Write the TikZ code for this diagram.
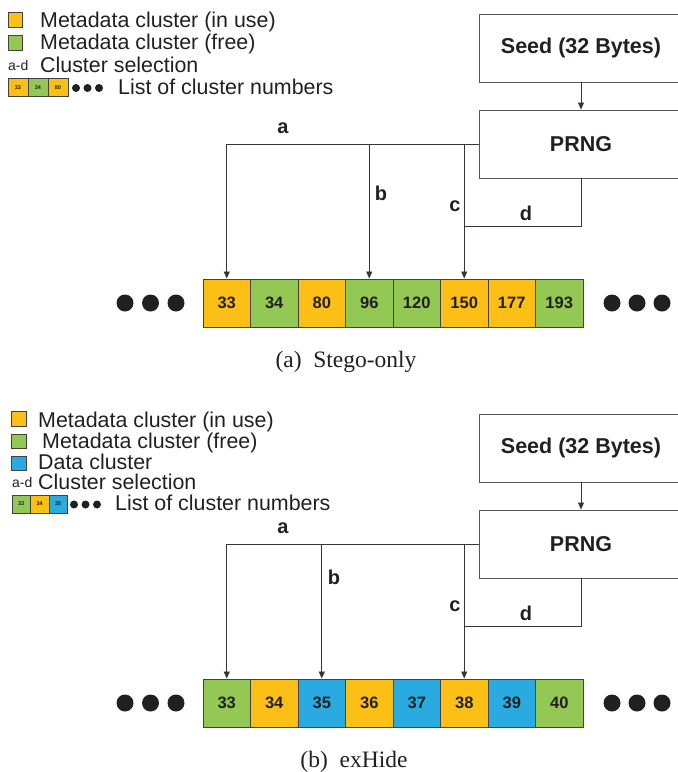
\documentclass[tikz,border=0pt]{standalone}
\usepackage{fontspec}
\setmainfont{Liberation Serif}
\setsansfont{Liberation Sans}
\usetikzlibrary{arrows.meta}
\definecolor{inuse}{HTML}{FBBF15}
\definecolor{free}{HTML}{92C853}
\definecolor{data}{HTML}{29ABE2}
\definecolor{ink}{HTML}{231F20}

\begin{document}
\begin{tikzpicture}[x=1pt,y=-1pt]
    % Define styles for boxes, cells and connectors
    \tikzstyle{block}=[draw=ink!75,line width=0.9pt,minimum width=204pt,minimum height=68pt,inner sep=0pt,text=ink,font=\sffamily\bfseries\fontsize{21.5}{24}\selectfont]
    \tikzstyle{cell}=[draw=ink!85,line width=1pt,minimum width=47.5pt,minimum height=48pt,inner sep=0pt,text=ink,font=\sffamily\bfseries\fontsize{16.5}{18}\selectfont]
    \tikzstyle{minicell}=[cell,line width=0.6pt,minimum height=18pt,font=\sffamily\bfseries\fontsize{5.5}{6}\selectfont]
    \tikzstyle{swatch}=[draw=ink!85,line width=0.8pt,minimum size=14.5pt,inner sep=0pt]
    \tikzstyle{legend}=[anchor=base west,inner sep=0pt,text=ink,font=\sffamily\fontsize{21.4}{24}\selectfont]
    \tikzstyle{sel}=[inner sep=0pt,text=ink,font=\sffamily\bfseries\fontsize{20}{22}\selectfont]
    \tikzstyle{link}=[draw=ink!90,line width=0.9pt]
    \tikzstyle{pick}=[link,-{Triangle[length=7pt,width=6pt]}]
    \tikzstyle{dot}=[circle,fill=ink,minimum size=17pt,inner sep=0pt]
    \tikzstyle{minidot}=[circle,fill=ink,minimum size=8pt,inner sep=0pt]
    \tikzstyle{caption}=[inner sep=0pt,text=ink,font=\rmfamily\fontsize{23.5}{25}\selectfont]

    \useasboundingbox (0,0) rectangle (678,772);

    % Legend (a)
    \node[swatch,fill=inuse] (sqA1) at (15.5,20) {};
    \node[swatch,fill=free] (sqA2) at (15.5,43) {};
    \node[legend] (txA1) at (40,27) {Metadata cluster (in use)};
    \node[legend] (txA2) at (40,49.5) {Metadata cluster (free)};
    \node[legend,font=\sffamily\fontsize{14}{16}\selectfont] (adA) at (8,70) {a-d};
    \node[legend] (txA3) at (40,72) {Cluster selection};
    \foreach \i/\num/\col in {0/33/inuse,1/34/free,2/80/inuse}{
        \node[minicell,minimum width=20pt,fill=\col] (mA\i) at (18+20*\i,87.5) {\num};
    }
    \foreach \k in {0,1,2}{
        \node[minidot] (mdA\k) at (76+11.5*\k,88) {};
    }
    \node[legend] (txA4) at (118,94) {List of cluster numbers};

    % Panel (a): Stego-only
    \node[block] (seedA) at (581,48) {Seed (32 Bytes)};
    \node[block] (prngA) at (581,144) {PRNG};
    \draw[pick] (seedA) -- (prngA);
    \foreach \i/\num/\col in {0/33/inuse,1/34/free,2/80/inuse,3/96/free,4/120/free,5/150/inuse,6/177/inuse,7/193/free}{
        \node[cell,fill=\col] (a\i) at (226.75+47.5*\i,303) {\num};
    }
    \foreach \k in {0,1,2}{
        \node[dot] (lA\k) at (125+25.5*\k,303) {};
        \node[dot] (rA\k) at (612+25*\k,303) {};
    }
    % Selections a-d
    \draw[pick] (prngA.west) -| (a0.north);
    \draw[pick] (prngA.west -| a3.north) -- (a3.north);
    \draw[pick] (prngA.west -| a5.north) -- (a5.north);
    \path (a5.north) ++(0,-52) coordinate (dA);
    \draw[link] (prngA.south) |- (dA);
    \node[sel] (selAa) at (283,128) {a};
    \node[sel] (selAb) at (381,193) {b};
    \node[sel] (selAc) at (455,206) {c};
    \node[sel] (selAd) at (526,213) {d};
    \node[caption] (capA) at (346,362) {(a)\hspace{0.5em}Stego-only};

    % Legend (b)
    \node[swatch,fill=inuse] (sqB1) at (19,419) {};
    \node[swatch,fill=free] (sqB2) at (19,441.5) {};
    \node[swatch,fill=data] (sqB3) at (19,463.5) {};
    \node[legend] (txB1) at (38,427) {Metadata cluster (in use)};
    \node[legend] (txB2) at (42,448.5) {Metadata cluster (free)};
    \node[legend] (txB3) at (38,469.5) {Data cluster};
    \node[legend,font=\sffamily\fontsize{14}{16}\selectfont] (adB) at (12,487) {a-d};
    \node[legend] (txB4) at (38,489) {Cluster selection};
    \foreach \i/\num/\col in {0/33/free,1/34/inuse,2/35/data}{
        \node[minicell,minimum width=18.5pt,fill=\col] (mB\i) at (21.25+18.5*\i,504) {\num};
    }
    \foreach \k in {0,1,2}{
        \node[minidot] (mdB\k) at (74+11.5*\k,504.5) {};
    }
    \node[legend] (txB5) at (115,510) {List of cluster numbers};

    % Panel (b): exHide
    \begin{scope}[shift={(0,400)}]
        \node[block] (seedB) at (581,48) {Seed (32 Bytes)};
        \node[block] (prngB) at (581,144) {PRNG};
        \draw[pick] (seedB) -- (prngB);
        \foreach \i/\num/\col in {0/33/free,1/34/inuse,2/35/data,3/36/inuse,4/37/data,5/38/inuse,6/39/data,7/40/free}{
            \node[cell,fill=\col] (b\i) at (226.75+47.5*\i,303) {\num};
        }
        \foreach \k in {0,1,2}{
            \node[dot] (lB\k) at (125+25.5*\k,303) {};
            \node[dot] (rB\k) at (612+25*\k,303) {};
        }
        % Selections a-d
        \draw[pick] (prngB.west) -| (b0.north);
        \draw[pick] (prngB.west -| b2.north) -- (b2.north);
        \draw[pick] (prngB.west -| b5.north) -- (b5.north);
        \path (b5.north) ++(0,-52) coordinate (dB);
        \draw[link] (prngB.south) |- (dB);
        \node[sel] (selBa) at (283,128) {a};
        \node[sel] (selBb) at (334,177) {b};
        \node[sel] (selBc) at (455,206) {c};
        \node[sel] (selBd) at (526,213) {d};
        \node[caption] (capB) at (354,362) {(b)\hspace{0.5em}exHide};
    \end{scope}
\end{tikzpicture}
\end{document}
